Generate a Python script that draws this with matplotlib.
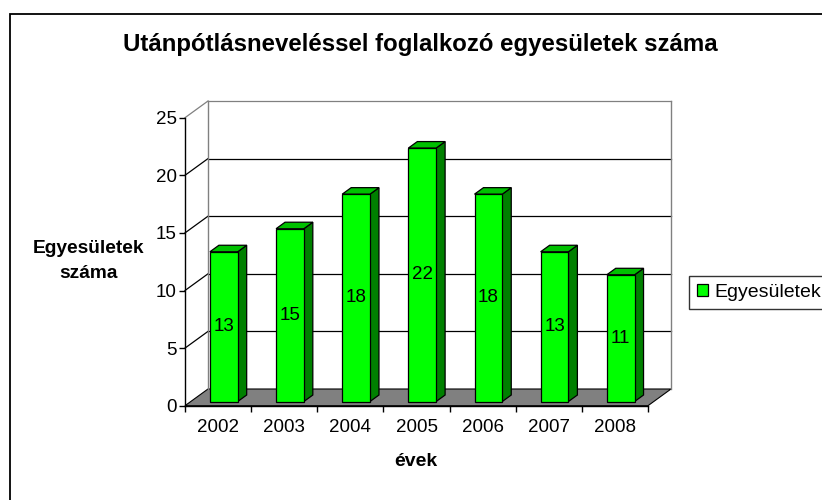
import matplotlib
matplotlib.use("Agg")
import matplotlib.pyplot as plt
from matplotlib.patches import Polygon, Rectangle, Patch
from matplotlib.lines import Line2D

# ---- data ----
categories = ["2002", "2003", "2004", "2005", "2006", "2007", "2008"]
values = [13, 15, 18, 22, 18, 13, 11]
series_name = "Egyesületek"
title = "Utánpótlásneveléssel foglalkozó egyesületek száma"
ylabel = "Egyesületek\nszáma"
xlabel = "évek"
yticks = [0, 5, 10, 15, 20, 25]

plt.rcParams['font.family'] = ['Liberation Sans', 'DejaVu Sans']

W, H = 822, 500
fig = plt.figure(figsize=(W / 100, H / 100), dpi=100)
fig.patch.set_facecolor("white")

# outer chart frame (cropped at right and bottom)
fig.patches.append(Rectangle((9.7 / W, -0.05), 1.1, (H - 13.7) / H + 0.05,
                             transform=fig.transFigure, fill=False,
                             edgecolor="black", lw=1.3))

ax = fig.add_axes([185 / W, 94.3 / H, 463 / W, 288 / H])
n = len(categories)
ax.set_xlim(-0.5, n - 0.5)
ax.set_ylim(0, 25)
ax.set_facecolor("none")

# depth of the 3D box in data units
DX = 23 / (463 / n)       # category units
DY = 16.7 / (288 / 25)    # value units
x0, x1 = -0.5, n - 0.5

grid_c = "black"
wall_c = "#808080"

# floor
ax.add_patch(Polygon([(x0, 0), (x1, 0), (x1 + DX, DY), (x0 + DX, DY)],
                     closed=True, facecolor="#808080", edgecolor="black",
                     lw=0.8, clip_on=False, zorder=1))

# gridlines on side wall and back wall
for v in yticks:
    c = wall_c if v == yticks[-1] else grid_c
    if v == 0:
        continue
    ax.add_line(Line2D([x0, x0 + DX], [v, v + DY], color=c, lw=0.9,
                       clip_on=False, zorder=1))
    ax.add_line(Line2D([x0 + DX, x1 + DX], [v + DY, v + DY], color=c, lw=0.9,
                       clip_on=False, zorder=1))
# wall verticals
ax.add_line(Line2D([x0 + DX, x0 + DX], [DY, yticks[-1] + DY], color=wall_c,
                   lw=1.0, clip_on=False, zorder=1))
ax.add_line(Line2D([x1 + DX, x1 + DX], [DY, yticks[-1] + DY], color=wall_c,
                   lw=1.0, clip_on=False, zorder=1))

# bars
bw = 0.42
f1, f2 = 0.25, 0.64
for i, v in enumerate(values):
    bx = i - bw / 2 + f1 * DX
    by = f1 * DY
    ddx = (f2 - f1) * DX
    ddy = (f2 - f1) * DY
    # side
    ax.add_patch(Polygon([(bx + bw, by), (bx + bw + ddx, by + ddy),
                          (bx + bw + ddx, by + ddy + v), (bx + bw, by + v)],
                         closed=True, facecolor="#008000", edgecolor="black",
                         lw=0.9, clip_on=False, zorder=3))
    # top
    ax.add_patch(Polygon([(bx, by + v), (bx + bw, by + v),
                          (bx + bw + ddx, by + ddy + v), (bx + ddx, by + ddy + v)],
                         closed=True, facecolor="#00C000", edgecolor="black",
                         lw=0.9, clip_on=False, zorder=3))
    # front
    ax.add_patch(Rectangle((bx, by), bw, v, facecolor="#00FF00",
                           edgecolor="black", lw=0.9, clip_on=False, zorder=4))
    ax.text(bx + bw / 2, by + v / 2, str(v), ha="center", va="center",
            fontsize=13.5, color="black", zorder=5)

# axes styling
for s in ["top", "right"]:
    ax.spines[s].set_visible(False)
ax.spines["left"].set_color("black")
ax.spines["bottom"].set_color("black")
ax.spines["left"].set_linewidth(1.0)
ax.spines["bottom"].set_linewidth(1.0)
ax.spines["left"].set_zorder(6)
ax.spines["bottom"].set_zorder(6)

ax.set_yticks(yticks)
ax.set_yticklabels([str(t) for t in yticks])
ax.tick_params(axis="y", direction="out", length=4.5, width=1, pad=1.5,
               labelsize=13.5)
ax.set_xticks([x0 + k for k in range(n + 1)])
ax.set_xticklabels([])
ax.set_xticks(range(n), minor=True)
ax.set_xticklabels(categories, minor=True)
ax.tick_params(axis="x", which="major", direction="out", length=4.5, width=1)
ax.tick_params(axis="x", which="minor", length=0, pad=9.5, labelsize=13.5)

# titles
fig.text(420 / W, 1 - 45 / H, title, ha="center", va="center",
         fontsize=17.3, fontweight="bold")
fig.text(88 / W, 1 - 261 / H, ylabel, ha="center", va="center",
         fontsize=13.8, fontweight="bold", linespacing=1.6)
fig.text(416 / W, 1 - 461 / H, xlabel, ha="center", va="center",
         fontsize=14, fontweight="bold")

# legend
handle = Patch(facecolor="#00FF00", edgecolor="black", lw=0.9, label=series_name)
leg = fig.legend(handles=[handle], loc="upper left",
                 bbox_to_anchor=(689 / W, 1 - 276 / H),
                 fontsize=14, frameon=True, fancybox=False, shadow=False,
                 handlelength=0.6, handleheight=0.6, handletextpad=0.3,
                 borderpad=0.4, borderaxespad=0)
leg.get_frame().set_edgecolor("black")
leg.get_frame().set_linewidth(1.0)

fig.savefig("out.png", dpi=100)
